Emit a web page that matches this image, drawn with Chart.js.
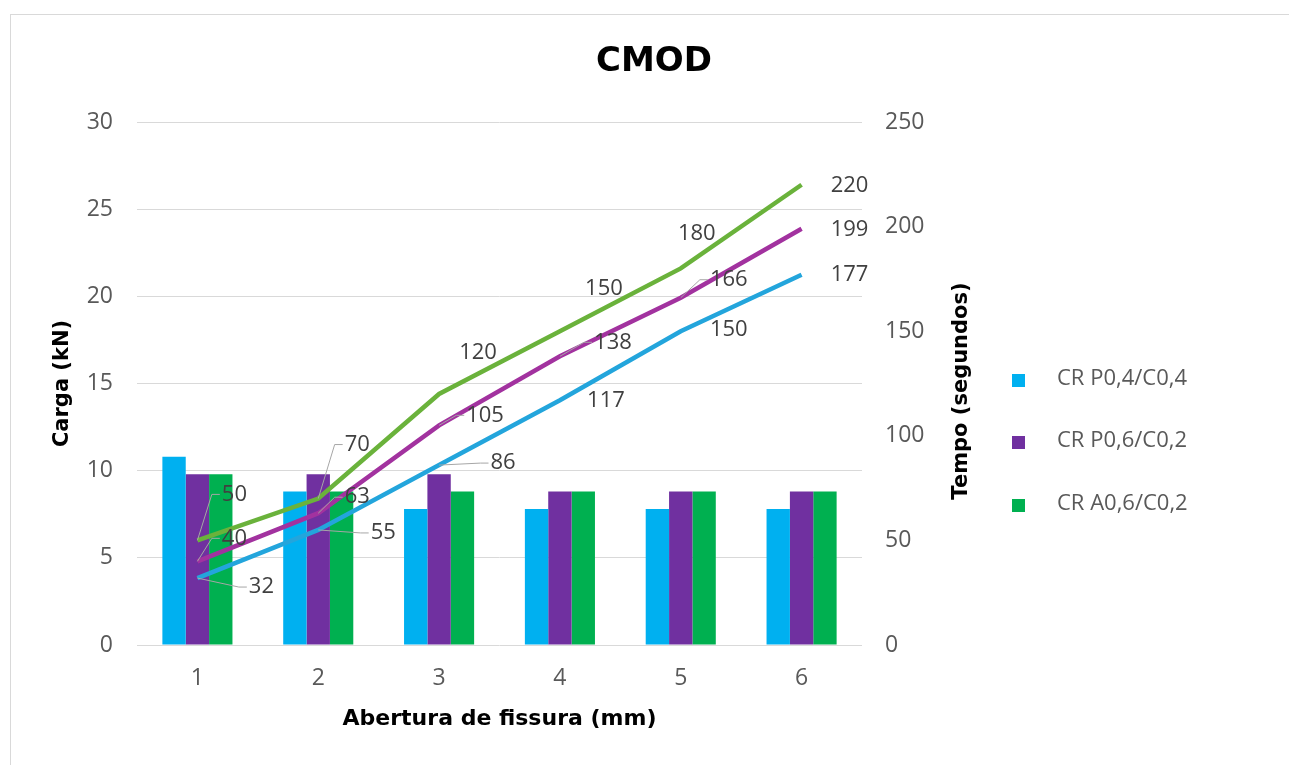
<!DOCTYPE html>
<html>
<head>
<meta charset="utf-8">
<script src="https://cdn.jsdelivr.net/npm/chart.js@4/dist/chart.umd.min.js"></script>
<style>
  html, body { margin: 0; padding: 0; background: #ffffff; }
  #wrap { position: relative; width: 1289px; height: 765px; overflow: hidden; }
  #frame { position: absolute; left: 10px; top: 14px; width: 1300px; height: 800px; border: 1px solid #d9d9d9; }
  canvas { position: absolute; left: 0; top: 0; }
</style>
</head>
<body>
<div id="wrap">
  <div id="frame"></div>
  <canvas id="chart" width="1289" height="765"></canvas>
</div>
<script>
// Crack mouth opening (mm) categories
const categories = ['1', '2', '3', '4', '5', '6'];
const seriesNames = ['CR P0,4/C0,4', 'CR P0,6/C0,2', 'CR A0,6/C0,2'];

// Load (kN) — bars, left axis
const cargaP04 = [10.8, 8.8, 7.8, 7.8, 7.8, 7.8];
const cargaP06 = [9.8, 9.8, 9.8, 8.8, 8.8, 8.8];
const cargaA06 = [9.8, 8.8, 8.8, 8.8, 8.8, 8.8];

// Time (seconds) — lines, right axis
const tempoP04 = [32, 55, 86, 117, 150, 177];
const tempoP06 = [40, 63, 105, 138, 166, 199];
const tempoA06 = [50, 70, 120, 150, 180, 220];

// Axis ticks
const cargaTicks = [0, 5, 10, 15, 20, 25, 30];
const tempoTicks = [0, 50, 100, 150, 200, 250];

// Colours
const barColors = ['#00b0f0', '#7030a0', '#00b050'];
const lineColors = ['#23a5dc', '#a2329f', '#6ab23b'];

// Value label placement relative to each point [dx, dy], and whether a leader line is drawn
const labelOffsets = [
  [[64, 9], [65, 3], [64, -2], [46, 0], [48, -1], [48, 0]],
  [[37, -23], [39, -16], [46, -10], [53, -14], [48, -18], [48, 1]],
  [[37, -46], [39, -54], [39, -41], [44, -42], [16, -35], [48, 1]]
];
const labelLeaders = [
  [1, 1, 1, 0, 0, 0],
  [1, 1, 1, 1, 1, 0],
  [1, 1, 0, 0, 0, 0]
];

const tickFont = { family: 'Open Sans', size: 23 };
const tickColor = '#595959';
const axisTitleFont = { family: 'DejaVu Sans', size: 22, weight: 'bold' };

const cargaSets = [cargaP04, cargaP06, cargaA06];
const tempoSets = [tempoP04, tempoP06, tempoA06];

const datasets = [];
tempoSets.forEach((vals, i) => {
  datasets.push({
    type: 'line',
    label: seriesNames[i] + ' (tempo)',
    data: vals,
    yAxisID: 'y1',
    borderColor: lineColors[i],
    backgroundColor: lineColors[i],
    borderWidth: 4.5,
    pointRadius: 0,
    pointHoverRadius: 0,
    tension: 0,
    order: 0,
    isTempo: true,
    seriesIndex: i
  });
});
cargaSets.forEach((vals, i) => {
  datasets.push({
    type: 'bar',
    label: seriesNames[i],
    data: vals,
    yAxisID: 'y',
    backgroundColor: barColors[i],
    borderWidth: 0,
    barPercentage: 1,
    categoryPercentage: 0.58,
    order: 1
  });
});

// Title, right-hand axis title, legend and line value labels
const decorations = {
  id: 'decorations',
  afterDatasetsDraw(chart) {
    const ctx = chart.ctx;
    ctx.save();
    ctx.font = '22px "Open Sans"';
    ctx.textAlign = 'center';
    ctx.textBaseline = 'middle';
    chart.data.datasets.forEach((ds, di) => {
      if (!ds.isTempo) return;
      const meta = chart.getDatasetMeta(di);
      const s = ds.seriesIndex;
      meta.data.forEach((pt, k) => {
        const [dx, dy] = labelOffsets[s][k];
        const lx = pt.x + dx, ly = pt.y + dy;
        const txt = String(ds.data[k]);
        const w = ctx.measureText(txt).width;
        if (labelLeaders[s][k]) {
          ctx.strokeStyle = '#a6a6a6';
          ctx.lineWidth = 1;
          ctx.beginPath();
          ctx.moveTo(pt.x, pt.y);
          ctx.lineTo(lx - w / 2 - 10, ly);
          ctx.lineTo(lx - w / 2 - 2, ly);
          ctx.stroke();
        }
        ctx.fillStyle = '#404040';
        ctx.fillText(txt, lx, ly);
      });
    });
    ctx.restore();
  },
  afterDraw(chart) {
    const ctx = chart.ctx;
    ctx.save();
    // chart title
    ctx.fillStyle = '#000000';
    ctx.font = 'bold 34px "DejaVu Sans"';
    ctx.textAlign = 'center';
    ctx.textBaseline = 'middle';
    ctx.fillText('CMOD', 654, 62);

    // right axis title, reading bottom to top
    ctx.save();
    ctx.translate(962, 391);
    ctx.rotate(-Math.PI / 2);
    ctx.font = 'bold 21px "DejaVu Sans"';
    ctx.fillText('Tempo (segundos)', 0, 0);
    ctx.restore();

    // legend for the bar series
    const rows = [380, 442, 505];
    ctx.font = '22px "Open Sans"';
    ctx.textAlign = 'left';
    seriesNames.forEach((name, i) => {
      ctx.fillStyle = barColors[i];
      ctx.fillRect(1012, rows[i] - 6, 13, 13);
      ctx.fillStyle = tickColor;
      ctx.fillText(name, 1057, rows[i] - 1);
    });
    ctx.restore();
  }
};

new Chart(document.getElementById('chart'), {
  data: { labels: categories, datasets },
  options: {
    responsive: false,
    animation: false,
    events: [],
    layout: { padding: { left: 40, right: 327, top: 122, bottom: 0 } },
    plugins: {
      legend: { display: false },
      title: { display: false },
      tooltip: { enabled: false }
    },
    scales: {
      x: {
        offset: true,
        grid: { display: false },
        border: { display: false },
        ticks: { font: tickFont, color: tickColor, padding: 12 },
        title: {
          display: true,
          text: 'Abertura de fissura (mm)',
          font: axisTitleFont,
          color: '#000000',
          padding: { top: 0, bottom: 33 }
        },
        afterFit(scale) { scale.height = 120; }
      },
      y: {
        position: 'left',
        min: 0,
        max: 30,
        afterBuildTicks(scale) { scale.ticks = cargaTicks.map(v => ({ value: v })); },
        grid: { color: '#d9d9d9', lineWidth: 1, drawTicks: false },
        border: { display: false },
        ticks: { font: tickFont, color: tickColor, padding: 24 },
        title: {
          display: true,
          text: 'Carga (kN)',
          font: { family: 'DejaVu Sans', size: 21, weight: 'bold' },
          color: '#000000',
          padding: { top: 10, bottom: 0 }
        },
        afterFit(scale) { scale.width = 97; }
      },
      y1: {
        position: 'right',
        min: 0,
        max: 250,
        afterBuildTicks(scale) { scale.ticks = tempoTicks.map(v => ({ value: v })); },
        grid: { display: false, drawTicks: false },
        border: { display: false },
        ticks: { font: tickFont, color: tickColor, padding: 23 },
        afterFit(scale) { scale.width = 100; }
      }
    }
  },
  plugins: [decorations]
});
</script>
</body>
</html>
